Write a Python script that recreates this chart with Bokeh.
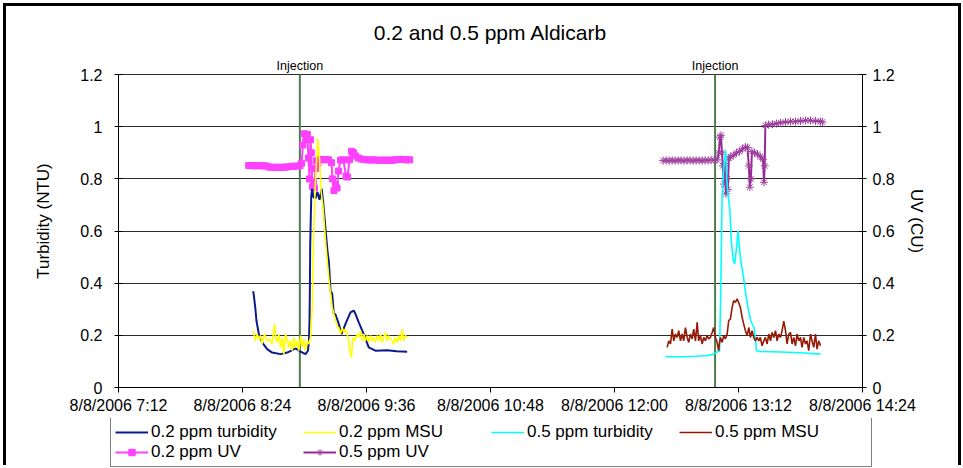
from bokeh.plotting import figure
from bokeh.layouts import column
from bokeh.models import Range1d, LinearAxis, FixedTicker, Label, Legend, LegendItem
from bokeh.embed import file_html
from bokeh.resources import INLINE

FONT = "Liberation Sans"
TITLE = "0.2 and 0.5 ppm Aldicarb"
Y_LABEL_LEFT = "Turbidity (NTU)"
Y_LABEL_RIGHT = "UV (CU)"

# x values are minutes since midnight on 8/8/2006
X_TICKS = [432, 504, 576, 648, 720, 792, 864]
X_TICK_LABELS = ["8/8/2006 7:12", "8/8/2006 8:24", "8/8/2006 9:36", "8/8/2006 10:48",
                 "8/8/2006 12:00", "8/8/2006 13:12", "8/8/2006 14:24"]
Y_TICKS = [0, 0.2, 0.4, 0.6, 0.8, 1.0, 1.2]
Y_TICK_LABELS = ["0", "0.2", "0.4", "0.6", "0.8", "1", "1.2"]

INJECTION_TIMES = [537.3, 778.4]
INJECTION_TEXT = "Injection"

NAVY_T = [510.2, 510.6, 511.5, 512.1, 513.5, 515.4, 518.3, 521.2, 526.1, 530.0, 532.9, 534.8, 537.7, 540.6,
          542.0, 542.6, 542.9, 543.1, 543.3, 543.9, 544.4, 545.2, 546.4, 547.5, 548.7, 550.0, 551.0, 552.2,
          553.5, 554.1, 555.1, 556.1, 557.0, 557.9, 559.9, 561.5, 563.8, 566.7, 568.6, 569.6, 571.5, 574.4,
          577.3, 581.2, 588.0, 593.4, 599.6]
NAVY_V = [0.369, 0.352, 0.301, 0.256, 0.205, 0.173, 0.147, 0.134, 0.128, 0.134, 0.143, 0.150, 0.138, 0.128,
          0.141, 0.179, 0.256, 0.359, 0.538, 0.730, 0.762, 0.730, 0.725, 0.750, 0.720, 0.762, 0.700, 0.608,
          0.512, 0.487, 0.371, 0.359, 0.282, 0.282, 0.244, 0.205, 0.244, 0.288, 0.295, 0.282, 0.250, 0.205,
          0.154, 0.141, 0.143, 0.139, 0.137]

YEL_T = [510.2, 511.5, 512.5, 513.5, 514.4, 515.4, 516.8, 518.3, 519.9, 521.2, 522.6, 523.2, 524.1, 525.1,
         526.1, 527.0, 528.0, 529.0, 530.0, 530.9, 531.9, 532.9, 533.8, 534.8, 535.8, 536.7, 537.7, 538.7,
         539.6, 540.6, 541.6, 542.5, 543.5, 544.5, 545.0, 545.8, 546.4, 547.7, 548.8, 549.6, 550.8, 552.2,
         553.5, 554.7, 556.1, 558.0, 559.3, 559.9, 560.9, 561.9, 562.8, 563.8, 564.8, 565.7, 566.7, 567.3,
         568.0, 569.2, 570.6, 571.5, 572.5, 573.5, 574.4, 575.4, 576.4, 577.3, 578.3, 579.3, 580.2, 581.2,
         582.2, 583.1, 584.1, 585.1, 586.0, 587.0, 588.0, 588.9, 589.9, 590.9, 591.8, 592.8, 593.8, 594.7,
         595.7, 596.7, 597.6, 598.6, 599.6]
YEL_V = [0.218, 0.179, 0.205, 0.186, 0.199, 0.167, 0.205, 0.179, 0.186, 0.167, 0.244, 0.192, 0.173, 0.205,
         0.154, 0.192, 0.128, 0.205, 0.186, 0.154, 0.179, 0.141, 0.192, 0.154, 0.179, 0.141, 0.199, 0.154,
         0.186, 0.141, 0.179, 0.167, 0.192, 0.307, 0.512, 0.704, 0.794, 0.954, 0.871, 0.755, 0.691, 0.563,
         0.461, 0.384, 0.307, 0.256, 0.230, 0.230, 0.205, 0.230, 0.211, 0.224, 0.205, 0.179, 0.128, 0.115,
         0.192, 0.179, 0.205, 0.192, 0.218, 0.179, 0.205, 0.179, 0.199, 0.173, 0.199, 0.179, 0.192, 0.173,
         0.199, 0.179, 0.205, 0.173, 0.192, 0.211, 0.179, 0.199, 0.186, 0.179, 0.167, 0.192, 0.173, 0.199,
         0.179, 0.224, 0.179, 0.199, 0.192]

CYAN_T = [749.6, 758.3, 767.0, 772.8, 775.7, 777.5, 779.2, 781.0, 781.6, 782.5, 783.5, 784.6, 785.1, 785.9,
          787.0, 787.8, 789.0, 789.8, 790.9, 791.7, 792.5, 793.3, 794.9, 796.2, 797.5, 799.1, 801.0, 802.0,
          802.4, 804.9, 816.4, 828.0, 839.6]
CYAN_V = [0.118, 0.118, 0.120, 0.122, 0.125, 0.128, 0.135, 0.140, 0.333, 0.736, 0.850, 0.909, 0.800, 0.743,
          0.679, 0.563, 0.487, 0.474, 0.538, 0.602, 0.538, 0.487, 0.423, 0.359, 0.307, 0.256, 0.230, 0.179,
          0.141, 0.138, 0.136, 0.133, 0.128]

DR_T = [750.6, 751.5, 752.5, 753.5, 754.4, 755.4, 756.4, 757.3, 758.3, 759.3, 760.2, 761.2, 762.2, 763.1,
        764.1, 765.1, 766.0, 767.0, 768.0, 768.9, 769.9, 770.9, 771.8, 772.8, 773.8, 774.7, 775.7, 776.7,
        777.6, 778.6, 779.6, 780.5, 780.9, 781.5, 782.5, 783.4, 784.4, 785.4, 786.3, 787.3, 788.3, 789.2,
        790.2, 791.2, 792.1, 793.1, 794.1, 795.0, 796.0, 797.0, 798.0, 798.9, 799.9, 800.9, 801.8, 802.8,
        803.8, 804.7, 805.7, 806.7, 807.6, 808.6, 809.6, 810.6, 811.5, 812.5, 813.5, 814.4, 815.4, 816.4,
        817.3, 818.3, 819.3, 820.2, 821.2, 822.2, 823.1, 824.1, 825.1, 826.0, 827.0, 828.0, 828.9, 829.9,
        830.9, 831.8, 832.8, 833.8, 834.7, 835.7, 836.7, 837.6, 838.6, 839.6]
DR_V = [0.154, 0.179, 0.167, 0.224, 0.179, 0.205, 0.192, 0.218, 0.179, 0.205, 0.179, 0.230, 0.192, 0.173,
        0.205, 0.186, 0.224, 0.179, 0.250, 0.179, 0.199, 0.167, 0.192, 0.179, 0.199, 0.186, 0.192, 0.211,
        0.230, 0.192, 0.173, 0.141, 0.167, 0.192, 0.173, 0.199, 0.186, 0.205, 0.256, 0.263, 0.307, 0.333,
        0.326, 0.340, 0.326, 0.307, 0.269, 0.244, 0.218, 0.199, 0.230, 0.192, 0.218, 0.192, 0.179, 0.192,
        0.179, 0.192, 0.160, 0.179, 0.192, 0.167, 0.205, 0.179, 0.211, 0.192, 0.218, 0.179, 0.205, 0.192,
        0.218, 0.254, 0.218, 0.167, 0.205, 0.211, 0.167, 0.192, 0.160, 0.205, 0.179, 0.192, 0.154, 0.192,
        0.167, 0.179, 0.141, 0.205, 0.179, 0.154, 0.205, 0.147, 0.179, 0.160]

MAG_T = [507.6, 509.3, 511.1, 512.8, 514.6, 516.3, 518.1, 519.8, 521.6, 523.3, 525.1, 526.8, 528.6, 530.3,
         532.1, 533.8, 535.6, 537.3, 538.3, 539.1, 540.0, 540.8, 541.7, 542.3, 542.9, 543.5, 544.0, 544.6,
         545.2, 545.8, 546.4, 546.9, 547.8, 548.7, 550.4, 552.2, 553.9, 555.7, 556.2, 557.1, 558.0, 558.9,
         559.7, 560.9, 562.6, 564.1, 565.0, 566.1, 567.3, 568.4, 569.6, 571.3, 573.1, 574.8, 576.6, 578.3,
         580.1, 581.8, 583.6, 585.3, 587.1, 588.8, 590.6, 592.3, 594.1, 595.8, 597.6, 599.3, 601.1]
MAG_V = [0.851, 0.851, 0.850, 0.851, 0.850, 0.850, 0.849, 0.845, 0.845, 0.844, 0.845, 0.844, 0.845, 0.846,
         0.848, 0.848, 0.849, 0.850, 0.860, 0.930, 0.973, 0.950, 0.970, 0.880, 0.800, 0.950, 0.900, 0.770,
         0.790, 0.765, 0.840, 0.870, 0.860, 0.875, 0.873, 0.874, 0.873, 0.862, 0.800, 0.755, 0.780, 0.765,
         0.830, 0.872, 0.873, 0.810, 0.807, 0.873, 0.906, 0.900, 0.888, 0.880, 0.876, 0.874, 0.873, 0.872,
         0.873, 0.872, 0.871, 0.872, 0.871, 0.872, 0.871, 0.873, 0.874, 0.875, 0.874, 0.873, 0.873]

PUR_T = [748.2, 750.0, 751.7, 753.5, 755.2, 757.0, 758.7, 760.4, 762.2, 763.9, 765.7, 767.4, 769.2, 770.9,
         772.6, 774.4, 776.1, 777.9, 779.6, 780.6, 781.2, 781.8, 782.4, 782.9, 783.5, 784.1, 784.7, 785.3,
         785.8, 786.4, 787.3, 789.0, 790.8, 792.5, 794.3, 796.0, 797.2, 798.0, 798.6, 799.2, 799.8, 801.3,
         803.0, 804.7, 806.2, 806.8, 807.2, 807.6, 809.4, 811.7, 814.0, 816.4, 819.3, 822.2, 825.1, 828.0,
         830.9, 833.8, 836.7, 839.6, 840.7]
PUR_V = [0.870, 0.871, 0.870, 0.871, 0.870, 0.871, 0.871, 0.870, 0.871, 0.871, 0.870, 0.871, 0.871, 0.870,
         0.871, 0.871, 0.872, 0.872, 0.873, 0.900, 0.960, 0.967, 0.900, 0.850, 0.780, 0.860, 0.743, 0.800,
         0.760, 0.880, 0.885, 0.890, 0.900, 0.905, 0.915, 0.922, 0.920, 0.850, 0.768, 0.800, 0.905, 0.900,
         0.895, 0.885, 0.875, 0.787, 0.850, 1.005, 1.008, 1.010, 1.012, 1.015, 1.018, 1.020, 1.020, 1.022,
         1.024, 1.024, 1.022, 1.020, 1.018]

LABELS = ["0.2 ppm turbidity", "0.2 ppm MSU", "0.5 ppm turbidity", "0.5 ppm MSU", "0.2 ppm UV", "0.5 ppm UV"]

COLORS = {"navy": "#0a1a8c", "yellow": "#ffff00", "cyan": "#00ffff", "darkred": "#951a05",
          "magenta": "#ff40ff", "purple": "#952a95", "purple_marker": "#a040a0", "inject": "#4e7d4e"}

SERIES = {"mag": (MAG_T, MAG_V), "pur": (PUR_T, PUR_V), "navy": (NAVY_T, NAVY_V),
          "yel": (YEL_T, YEL_V), "cyan": (CYAN_T, CYAN_V), "dr": (DR_T, DR_V)}

Y_MIN, Y_MAX = Y_TICKS[0], Y_TICKS[-1]
# the view extends a little above the top gridline to leave room for the "Injection" notes
Y_VIEW_TOP = 1.277

p = figure(width=952, height=412, x_range=Range1d(X_TICKS[0], X_TICKS[-1]), y_range=Range1d(Y_MIN, Y_VIEW_TOP),
           output_backend="svg", toolbar_location=None,
           min_border_left=112, min_border_right=96, min_border_top=48, min_border_bottom=31,
           background_fill_color="white", border_fill_color="white")
p.extra_y_ranges = {"uv": Range1d(Y_MIN, Y_VIEW_TOP)}
p.outline_line_color = None

p.title.text = TITLE
p.title.align = "center"
p.title.text_font = FONT
p.title.text_font_size = "21px"
p.title.text_font_style = "normal"
p.title.text_color = "black"
p.title.standoff = 22

p.xaxis.ticker = FixedTicker(ticks=X_TICKS)
p.xaxis.major_label_overrides = dict(zip(X_TICKS, X_TICK_LABELS))
p.xaxis.major_tick_in = 0
p.xaxis.major_tick_out = 5
p.xaxis.minor_tick_line_color = None
p.xaxis.major_label_standoff = 4
p.xaxis.major_label_text_font = FONT
p.xaxis.major_label_text_font_size = "16px"
p.xaxis.major_label_text_color = "black"
p.xaxis.axis_line_color = "black"
p.xaxis.major_tick_line_color = "black"

p.yaxis.ticker = FixedTicker(ticks=Y_TICKS)
p.yaxis.major_label_overrides = dict(zip(Y_TICKS, Y_TICK_LABELS))
p.yaxis.axis_label = Y_LABEL_LEFT

right = LinearAxis(y_range_name="uv", axis_label=Y_LABEL_RIGHT,
                   ticker=FixedTicker(ticks=Y_TICKS),
                   major_label_overrides=dict(zip(Y_TICKS, Y_TICK_LABELS)))
p.add_layout(right, "right")

for ax, label_std, tick_std in ((p.yaxis[0], 24, 12), (right, 9, 6)):
    ax.bounds = (Y_MIN, Y_MAX)
    ax.major_tick_in = 4
    ax.major_tick_out = 4
    ax.minor_tick_line_color = None
    ax.major_label_standoff = tick_std
    ax.major_label_text_font = FONT
    ax.major_label_text_font_size = "16px"
    ax.major_label_text_color = "black"
    ax.axis_label_text_font = FONT
    ax.axis_label_text_font_size = "17px"
    ax.axis_label_text_font_style = "normal"
    ax.axis_label_text_color = "black"
    ax.axis_label_standoff = label_std
    ax.axis_line_color = "black"
    ax.major_tick_line_color = "black"

p.xgrid.visible = False
p.ygrid.ticker = FixedTicker(ticks=Y_TICKS)
p.ygrid.grid_line_color = "#2b2b2b"
p.ygrid.grid_line_width = 1

p.segment(x0=INJECTION_TIMES, y0=[Y_MIN] * len(INJECTION_TIMES), x1=INJECTION_TIMES,
          y1=[Y_MAX] * len(INJECTION_TIMES), line_color=COLORS["inject"], line_width=2)
for t in INJECTION_TIMES:
    p.add_layout(Label(x=t, y=Y_MAX, text=INJECTION_TEXT, text_align="center", text_baseline="bottom",
                       y_offset=2, text_font=FONT, text_font_size="12.5px", text_color="black"))


def draw(fig, src):
    """Draw the six series on fig; src maps a series name to (x, y)."""
    r = {}
    r["mag_l"] = fig.line(*src["mag"], line_color=COLORS["magenta"], line_width=2, y_range_name="uv")
    r["mag_m"] = fig.scatter(*src["mag"], marker="square", size=6, fill_color=COLORS["magenta"],
                             line_color=COLORS["magenta"], y_range_name="uv")
    r["pur_l"] = fig.line(*src["pur"], line_color=COLORS["purple"], line_width=2, y_range_name="uv")
    r["pur_m"] = fig.scatter(*src["pur"], marker="asterisk", size=8, line_color=COLORS["purple_marker"],
                             line_width=1, y_range_name="uv")
    r["navy"] = fig.line(*src["navy"], line_color=COLORS["navy"], line_width=2)
    r["yel"] = fig.line(*src["yel"], line_color=COLORS["yellow"], line_width=1.6)
    r["cyan"] = fig.line(*src["cyan"], line_color=COLORS["cyan"], line_width=1.6)
    r["dr"] = fig.line(*src["dr"], line_color=COLORS["darkred"], line_width=1.6)
    return r


draw(p, SERIES)

# legend strip below the chart; it holds the same series, with a view that shows none of them
lg = figure(width=952, height=50, x_range=Range1d(0, 1), y_range=Range1d(0, 1),
            output_backend="svg", toolbar_location=None, x_axis_type=None, y_axis_type=None,
            min_border=0, min_border_left=0, min_border_right=0, min_border_top=0, min_border_bottom=0,
            background_fill_color="white", border_fill_color="white")
lg.outline_line_color = None
lg.extra_y_ranges = {"uv": Range1d(0, 1)}
lr = draw(lg, SERIES)

unaligned = "frame_align" in lg.properties()
if unaligned:
    lg.frame_align = False
    leg_loc = (104, 1)      # frame spans the whole strip
else:
    leg_loc = (0, 1)        # frame is aligned with the chart's frame

legend = Legend(items=[
    LegendItem(label=LABELS[0], renderers=[lr["navy"]]),
    LegendItem(label=LABELS[1], renderers=[lr["yel"]]),
    LegendItem(label=LABELS[2], renderers=[lr["cyan"]]),
    LegendItem(label=LABELS[3], renderers=[lr["dr"]]),
    LegendItem(label=LABELS[4], renderers=[lr["mag_l"], lr["mag_m"]]),
    LegendItem(label=LABELS[5], renderers=[lr["pur_l"], lr["pur_m"]]),
], location=leg_loc, orientation="horizontal", ncols=4,
   glyph_width=33, glyph_height=16, label_width=152, label_height=16, label_standoff=3,
   spacing=0, padding=4, margin=0,
   label_text_font=FONT, label_text_font_size="17px", label_text_color="black",
   border_line_color="black", border_line_width=1, background_fill_color="white", background_fill_alpha=1)
lg.add_layout(legend, "center")

page = column(p, lg, spacing=0,
              styles={"margin-left": "6px", "margin-top": "6px",
                      "box-shadow": "-3px -3px 0 0 black, 3px -3px 0 0 black"})

open("out.html", "w").write(file_html(page, INLINE))
